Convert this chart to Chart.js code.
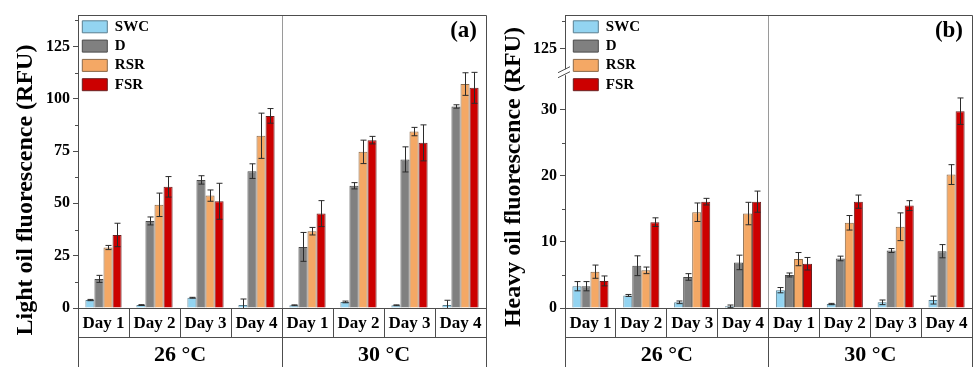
<!DOCTYPE html>
<html>
<head>
<meta charset="utf-8">
<script src="https://cdn.jsdelivr.net/npm/chart.js@4/dist/chart.umd.min.js"></script>
<style>
    html, body { margin: 0; padding: 0; background: #fff; overflow: hidden; }
    #wrap { position: relative; width: 973px; height: 367px; overflow: hidden; }
    .panel { position: absolute; top: 0; }
    #panelA { left: 0; }
    #panelB { left: 490px; }
</style>
</head>
<body>
<div id="wrap">
    <div class="panel" id="panelA"><canvas id="lightCanvas" width="490" height="377"></canvas></div>
    <div class="panel" id="panelB"><canvas id="heavyCanvas" width="483" height="377"></canvas></div>
</div>
<script>
/* ===== DATA ===== */
const days = ['Day 1', 'Day 2', 'Day 3', 'Day 4', 'Day 1', 'Day 2', 'Day 3', 'Day 4'];
const temps = ['26 °C', '30 °C'];
const seriesNames = ['SWC', 'D', 'RSR', 'FSR'];

// Light oil (a)
const lightSWC    = [3.8, 1.4, 4.9, 1.4, 1.3, 2.9, 1.3, 1.4];
const lightSWCErr = [0.3, 0.2, 0.2, 2.9, 0.2, 0.4, 0.2, 2.3];
const lightD      = [13.9, 41.6, 61.2, 65.4, 29.2, 58.4, 71.0, 96.3];
const lightDErr   = [1.7, 1.9, 2.0, 3.5, 6.9, 1.5, 6.0, 0.8];
const lightRSR    = [28.9, 49.3, 53.7, 82.3, 36.7, 74.6, 84.3, 107.0];
const lightRSRErr = [1.0, 5.6, 2.7, 10.8, 1.8, 5.6, 2.0, 5.4];
const lightFSR    = [34.9, 57.9, 51.0, 91.8, 45.1, 80.2, 78.9, 105.2];
const lightFSRErr = [5.6, 4.9, 8.6, 3.5, 6.2, 1.8, 8.6, 7.4];

// Heavy oil (b)
const heavySWC    = [3.3, 1.9, 0.86, 0.25, 2.7, 0.6, 0.86, 1.2];
const heavySWCErr = [0.7, 0.15, 0.2, 0.2, 0.4, 0.1, 0.35, 0.6];
const heavyD      = [3.3, 6.4, 4.7, 6.9, 5.0, 7.5, 8.7, 8.6];
const heavyDErr   = [0.7, 1.5, 0.5, 1.1, 0.3, 0.35, 0.3, 1.0];
const heavyRSR    = [5.5, 5.7, 14.5, 14.3, 7.4, 12.9, 12.3, 20.2];
const heavyRSRErr = [1.0, 0.5, 1.4, 1.7, 1.0, 1.1, 2.1, 1.5];
const heavyFSR    = [4.1, 13.0, 16.1, 16.1, 6.7, 16.1, 15.5, 29.8];
const heavyFSRErr = [0.75, 0.65, 0.5, 1.6, 0.95, 1.0, 0.75, 2.0];

const lightTicks = [0, 12.5, 25, 37.5, 50, 62.5, 75, 87.5, 100, 112.5, 125, 137.5];
const heavyTicks = [0, 5, 10, 15, 20, 25, 30];
const heavyTopTicks = [125, 137.5];

/* ===== STYLE ===== */
const FONT = "'Liberation Serif', 'Times New Roman', serif";
const fillColors = ['#93d4f1', '#808080', '#f4a865', '#cc0000'];
const edgeColors = ['#5a7f90', '#4a4a4a', '#8a6a4a', '#6a2020'];
const axisColor = '#4d4d4d';

function makeDatasets(values, errors) {
    return values.map((vals, i) => ({
        label: seriesNames[i],
        data: vals,
        errors: errors[i],
        backgroundColor: fillColors[i],
        borderColor: edgeColors[i],
        borderWidth: 1,
        barPercentage: 1,
        categoryPercentage: 0.71,
        xAxisID: 'x',
        yAxisID: 'y'
    }));
}

// Error bars drawn on top of the bars
const errorBarPlugin = {
    id: 'errorBars',
    afterDatasetsDraw(chart) {
        const ctx = chart.ctx;
        const yScale = chart.scales.y;
        const area = chart.chartArea;
        ctx.save();
        ctx.beginPath();
        ctx.rect(area.left, area.top, area.right - area.left, area.bottom - area.top);
        ctx.clip();
        ctx.strokeStyle = '#2b2b2b';
        ctx.lineWidth = 1;
        chart.data.datasets.forEach((ds, di) => {
            const meta = chart.getDatasetMeta(di);
            meta.data.forEach((bar, i) => {
                const v = ds.data[i], e = ds.errors[i];
                const x = Math.round(bar.x) + 0.5;
                const yHi = yScale.getPixelForValue(v + e);
                const yLo = yScale.getPixelForValue(v - e);
                ctx.beginPath();
                ctx.moveTo(x, yHi); ctx.lineTo(x, yLo);
                ctx.moveTo(x - 3, yHi); ctx.lineTo(x + 3, yHi);
                ctx.moveTo(x - 3, yLo); ctx.lineTo(x + 3, yLo);
                ctx.stroke();
            });
        });
        ctx.restore();
    }
};

// Frame, minor ticks, panel letter, y title, axis break
const decoPlugin = {
    id: 'deco',
    afterLayout(chart, args, opts) {
        // the chartArea legend starts at the canvas top, move it into the plot
        const lg = chart.legend;
        if (lg) {
            lg.top += chart.chartArea.top;
            lg.bottom += chart.chartArea.top;
            lg.left += opts.legendDX || 0;
        }
    },
    afterDraw(chart, args, opts) {
        const ctx = chart.ctx;
        const a = chart.chartArea;
        ctx.save();
        ctx.strokeStyle = axisColor;
        ctx.lineWidth = 1;
        ctx.beginPath();
        ctx.moveTo(a.left, a.top + 0.5); ctx.lineTo(a.right + 0.5, a.top + 0.5);
        ctx.lineTo(a.right + 0.5, chart.height);
        ctx.stroke();

        // minor ticks
        (opts.minorScales || []).forEach(id => {
            const s = chart.scales[id];
            const step = id === 'y' ? opts.majorStep : 25;
            s.ticks.forEach(t => {
                if (t.value % step === 0) return;
                const y = Math.round(s.getPixelForValue(t.value)) + 0.5;
                ctx.beginPath();
                ctx.moveTo(s.right - 3, y); ctx.lineTo(s.right, y);
                ctx.stroke();
            });
        });

        // axis break
        if (opts.breakAt) {
            const s = chart.scales.y;
            const x = s.right;
            const y = s.top;
            ctx.fillStyle = '#fff';
            ctx.fillRect(x - 2, y - 3, 4, 6);
            ctx.beginPath();
            [-2.5, 2.5].forEach(k => {
                ctx.moveTo(x - 7, y + k + 3);
                ctx.lineTo(x + 5, y + k - 3);
            });
            ctx.stroke();
        }

        // panel letter
        ctx.fillStyle = '#000';
        ctx.font = `bold 23px ${FONT}`;
        ctx.textAlign = 'right';
        ctx.textBaseline = 'middle';
        ctx.fillText(opts.letter, a.right - 9, a.top + 16);

        // y title
        ctx.translate(opts.titleX, opts.titleY);
        ctx.rotate(-Math.PI / 2);
        ctx.font = `bold 24px ${FONT}`;
        ctx.textAlign = 'center';
        ctx.fillText(opts.title, 0, 0);
        ctx.restore();
    }
};

function xScales() {
    return {
        x: {
            type: 'category',
            position: 'bottom',
            offset: true,
            grid: { offset: true, drawOnChartArea: false, tickLength: 29, color: axisColor },
            border: { display: true, color: axisColor, width: 1 },
            ticks: {
                autoSkip: false, maxRotation: 0, padding: -24, color: '#000',
                font: { family: FONT, size: 17, weight: 'bold' }
            },
            afterFit: s => { s.height = 29; }
        },
        x2: {
            type: 'category',
            labels: temps,
            position: 'bottom',
            offset: true,
            grid: {
                offset: true, drawOnChartArea: true, tickLength: 45,
                color: c => c.index === 1 ? '#9a9a9a' : 'rgba(0,0,0,0)',
                tickColor: axisColor
            },
            border: { display: true, color: axisColor, width: 1 },
            ticks: {
                autoSkip: false, maxRotation: 0, padding: -40, color: '#000',
                font: { family: FONT, size: 22, weight: 'bold' }
            },
            afterFit: s => { s.height = 40; }
        }
    };
}

function yScale(min, max, ticks, labelStep, width, extra) {
    return Object.assign({
        type: 'linear',
        position: 'left',
        min: min,
        max: max,
        afterBuildTicks: s => { s.ticks = ticks.map(v => ({ value: v })); },
        grid: {
            drawOnChartArea: false, tickLength: 5,
            tickColor: c => (c.tick && c.tick.value % labelStep === 0) ? axisColor : 'rgba(0,0,0,0)'
        },
        border: { display: true, color: axisColor, width: 1 },
        ticks: {
            padding: 3, color: '#000',
            font: { family: FONT, size: 16, weight: 'bold' },
            callback: v => (v % labelStep === 0 ? v : '')
        },
        afterFit: s => { s.width = width; }
    }, extra || {});
}

function legendOptions() {
    return {
        display: true,
        position: 'chartArea',
        align: 'start',
        labels: {
            boxWidth: 25, boxHeight: 12, padding: 4.3, color: '#000',
            font: { family: FONT, size: 15, weight: 'bold' }
        }
    };
}

/* ===== CHART (a) ===== */
new Chart(document.getElementById('lightCanvas'), {
    type: 'bar',
    data: {
        labels: days,
        datasets: makeDatasets(
            [lightSWC, lightD, lightRSR, lightFSR],
            [lightSWCErr, lightDErr, lightRSRErr, lightFSRErr])
    },
    options: {
        responsive: false,
        animation: false,
        layout: { padding: { top: 15, right: 4, left: 0, bottom: 0 } },
        plugins: {
            legend: legendOptions(),
            tooltip: { enabled: false },
            deco: { letter: '(a)', title: 'Light oil fluorescence (RFU)', titleX: 26, titleY: 190, minorScales: ['y'], majorStep: 25 }
        },
        scales: Object.assign(xScales(), {
            y: yScale(0, 140, lightTicks, 25, 78)
        })
    },
    plugins: [errorBarPlugin, decoPlugin]
});

/* ===== CHART (b) ===== */
new Chart(document.getElementById('heavyCanvas'), {
    type: 'bar',
    data: {
        labels: days,
        datasets: makeDatasets(
            [heavySWC, heavyD, heavyRSR, heavyFSR],
            [heavySWCErr, heavyDErr, heavyRSRErr, heavyFSRErr])
    },
    options: {
        responsive: false,
        animation: false,
        layout: { padding: { top: 15, right: 1, left: 0, bottom: 0 } },
        plugins: {
            legend: legendOptions(),
            tooltip: { enabled: false },
            deco: { letter: '(b)', title: 'Heavy oil fluorescence (RFU)', titleX: 24, titleY: 177, minorScales: ['y', 'yTop'], majorStep: 10, breakAt: true, legendDX: 4 }
        },
        scales: Object.assign(xScales(), {
            y: yScale(0, 35.7, heavyTicks, 10, 75, { stack: 'left', stackWeight: 235 }),
            yTop: yScale(114.5, 140, heavyTopTicks, 25, 75, { stack: 'left', stackWeight: 57 })
        })
    },
    plugins: [errorBarPlugin, decoPlugin]
});
</script>
</body>
</html>
